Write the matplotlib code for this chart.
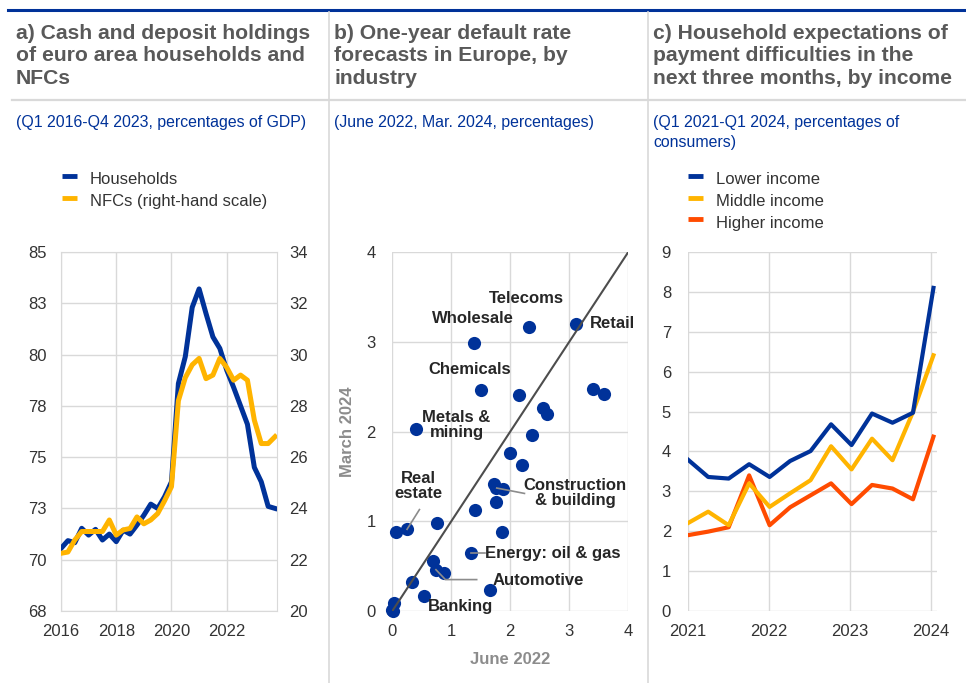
import matplotlib.pyplot as plt
from matplotlib.lines import Line2D
import numpy as np

plt.rcParams['font.family'] = ['Liberation Sans', 'DejaVu Sans']

W, H = 966, 683
BLUE = '#003299'
YELLOW = '#ffb400'
RED = '#ff4b00'
TITLE_GREY = '#595959'
GRID = '#d9d9d9'
TICK = '#333333'

# ---- panel a data (Q1 2016 - Q4 2023) ----
households = [70.55, 70.93, 70.83, 71.53, 71.2, 71.48, 70.96, 71.25,
              70.88, 71.44, 71.25, 71.69, 72.17, 72.71, 72.5, 73.07,
              73.8, 78.59, 79.9, 82.3, 83.2, 82.0, 80.86, 80.3,
              79.24, 78.4, 77.5, 76.6, 74.5, 73.8, 72.6, 72.5]
nfcs = [22.25, 22.3, 22.77, 23.1, 23.1, 23.1, 23.1, 23.55,
        22.96, 23.16, 23.22, 23.67, 23.4, 23.55, 23.8, 24.3,
        24.85, 28.2, 29.1, 29.6, 29.85, 29.06, 29.2, 29.85,
        29.5, 29.0, 29.2, 29.0, 27.44, 26.53, 26.53, 26.8]
left_ticks = [67.5, 70, 72.5, 75, 77.5, 80, 82.5, 85]
left_labels = ['68', '70', '73', '75', '78', '80', '83', '85']
right_ticks = [20, 22, 24, 26, 28, 30, 32, 34]
year_ticks_a = [2016, 2018, 2020, 2022]
series_a = ['Households', 'NFCs (right-hand scale)']

# ---- panel b data (June 2022 vs March 2024) ----
june_2022 = [1.38, 2.31, 3.11, 1.50, 2.14, 3.40, 3.59, 2.56, 2.63, 2.37,
             0.41, 1.99, 2.19, 1.73, 1.75, 1.88, 1.76, 1.41, 0.75, 1.86,
             0.06, 0.25, 1.34, 0.69, 0.74, 0.88, 0.34, 0.53, 1.66, 0.03,
             0.0, 0.02]
march_2024 = [2.99, 3.16, 3.20, 2.46, 2.41, 2.47, 2.42, 2.26, 2.19, 1.96,
              2.03, 1.76, 1.63, 1.42, 1.37, 1.36, 1.22, 1.12, 0.98, 0.88,
              0.88, 0.91, 0.65, 0.56, 0.46, 0.42, 0.32, 0.17, 0.23, 0.09,
              0.01, 0.0]

# ---- panel c data (Q1 2021 - Q1 2024) ----
lower_income = [3.8, 3.36, 3.32, 3.68, 3.36, 3.76, 4.01, 4.68, 4.16, 4.95, 4.72, 4.97, 8.1]
middle_income = [2.2, 2.49, 2.15, 3.2, 2.61, 2.95, 3.28, 4.13, 3.55, 4.32, 3.78, 4.99, 6.41]
higher_income = [1.9, 1.99, 2.1, 3.4, 2.15, 2.6, 2.9, 3.2, 2.68, 3.16, 3.07, 2.8, 4.37]
series_c = ['Lower income', 'Middle income', 'Higher income']
year_ticks_c = [2021, 2022, 2023, 2024]


def fx(x):
    return x / W


def fy(y):
    return 1 - y / H


def box(l, t, r, b):
    return [fx(l), fy(b), fx(r - l), (b - t) / H]


fig = plt.figure(figsize=(W / 100, H / 100), dpi=100)

# frame lines
fig.add_artist(Line2D([fx(8), 1], [fy(10), fy(10)], color=BLUE, lw=2.2))
fig.add_artist(Line2D([fx(12), 1], [fy(100), fy(100)], color=GRID, lw=1.6))
for xs in (329, 648):
    fig.add_artist(Line2D([fx(xs), fx(xs)], [fy(12), 0], color=GRID, lw=1.2))

# titles and subtitles
titles = ['a) Cash and deposit holdings\nof euro area households and\nNFCs',
          'b) One-year default rate\nforecasts in Europe, by\nindustry',
          'c) Household expectations of\npayment difficulties in the\nnext three months, by income']
subtitles = ['(Q1 2016-Q4 2023, percentages of GDP)',
             '(June 2022, Mar. 2024, percentages)',
             '(Q1 2021-Q1 2024, percentages of\nconsumers)']
for x0, t, s in zip((16, 334, 653), titles, subtitles):
    fig.text(fx(x0), fy(24), t, ha='left', va='top', fontsize=15.2,
             fontweight='bold', color=TITLE_GREY, linespacing=1.22)
    fig.text(fx(x0), fy(115), s, ha='left', va='top', fontsize=11.4,
             color=BLUE, linespacing=1.45)


def style(ax):
    ax.grid(True, color=GRID, lw=1)
    ax.set_axisbelow(True)
    ax.tick_params(length=0, labelsize=12, colors=TICK)
    for sp in ax.spines.values():
        sp.set_visible(False)


def legend(x0, names, colors, y0):
    for i, (n, c) in enumerate(zip(names, colors)):
        y = y0 + i * 21.7
        fig.add_artist(Line2D([fx(x0), fx(x0 + 15)], [fy(y - 4), fy(y - 4)],
                              color=c, lw=3.5, solid_capstyle='butt'))
        fig.text(fx(x0 + 28), fy(y), n, ha='left', va='center',
                 fontsize=12, color=TICK)


# ---- panel a ----
qa = 2016 + np.arange(len(households)) / 4
axa = fig.add_axes(box(61, 252, 277, 611))
style(axa)
for sp in axa.spines.values():
    sp.set_visible(True)
    sp.set_color(GRID)
axa.plot(qa, households, color=BLUE, lw=3.6, zorder=3)
axa.set_xlim(2016, 2023.82)
axa.set_ylim(67.5, 85)
axa.set_yticks(left_ticks)
axa.set_yticklabels(left_labels)
axa.set_xticks(year_ticks_a)
axa.tick_params(axis='y', pad=10)
axa.tick_params(axis='x', pad=9)
axa2 = axa.twinx()
for sp in axa2.spines.values():
    sp.set_visible(False)
axa2.plot(qa, nfcs, color=YELLOW, lw=3.6, zorder=4)
axa2.set_ylim(20, 34)
axa2.set_yticks(right_ticks)
axa2.tick_params(length=0, labelsize=12, colors=TICK, pad=9)
legend(62, series_a, [BLUE, YELLOW], 180)

# ---- panel b ----
axb = fig.add_axes(box(392.3, 252, 628.3, 611))
style(axb)
axb.set_xlim(0, 4)
axb.set_ylim(0, 4)
axb.set_xticks(range(5))
axb.set_yticks(range(5))
axb.tick_params(axis='y', pad=12)
axb.tick_params(axis='x', pad=9)
diag = [0, 4]
axb.plot(diag, diag, color='#4d4d4d', lw=1.5, zorder=4)
axb.scatter(june_2022, march_2024, s=90, color=BLUE, zorder=3,
            clip_on=False, linewidths=0)
axb.set_xlabel('June 2022', fontsize=12, fontweight='bold', color='#8c8c8c', labelpad=10)
axb.set_ylabel('March 2024', fontsize=12, fontweight='bold', color='#8c8c8c', labelpad=8)

lab = dict(fontsize=12, fontweight='bold', color='#262626', zorder=5)
lead = dict(color='#8c8c8c', lw=1.2, zorder=4)
axb.text(2.28, 3.48, 'Telecoms', ha='center', va='center', **lab)
axb.text(1.37, 3.26, 'Wholesale', ha='center', va='center', **lab)
axb.text(3.73, 3.2, 'Retail', ha='center', va='center', **lab)
axb.text(1.32, 2.69, 'Chemicals', ha='center', va='center', **lab)
axb.text(1.09, 2.07, 'Metals &\nmining', ha='center', va='center', linespacing=1.0, **lab)
axb.text(1.15, 0.055, 'Banking', ha='center', va='center', **lab)
axb.text(0.45, 1.39, 'Real\nestate', ha='center', va='center', linespacing=1.0, **lab)
axb.plot([0.25, 0.46], [0.91, 1.13], **lead)
axb.text(3.1, 1.31, 'Construction\n& building', ha='center', va='center',
         linespacing=1.0, **lab)
axb.plot([1.77, 2.24], [1.37, 1.31], **lead)
axb.text(1.57, 0.64, 'Energy: oil & gas', ha='left', va='center', **lab)
axb.plot([1.34, 1.57], [0.65, 0.65], **lead)
axb.text(2.47, 0.345, 'Automotive', ha='center', va='center', **lab)
axb.plot([0.74, 0.9, 1.43], [0.46, 0.35, 0.35], **lead)

# ---- panel c ----
qc = 2021 + np.arange(len(lower_income)) / 4 + np.linspace(0, 0.03, len(lower_income))
axc = fig.add_axes(box(687.7, 252, 936.7, 611))
style(axc)
axc.plot(qc, lower_income, color=BLUE, lw=3, zorder=5)
axc.plot(qc, middle_income, color=YELLOW, lw=3, zorder=4)
axc.plot(qc, higher_income, color=RED, lw=3, zorder=3)
axc.set_xlim(2021, 2024.07)
axc.set_ylim(0, 9)
axc.set_yticks(range(10))
axc.set_xticks(year_ticks_c)
axc.tick_params(axis='y', pad=12)
axc.tick_params(axis='x', pad=9)
legend(688, series_c, [BLUE, YELLOW, RED], 180)

fig.savefig('out.png', dpi=100)
